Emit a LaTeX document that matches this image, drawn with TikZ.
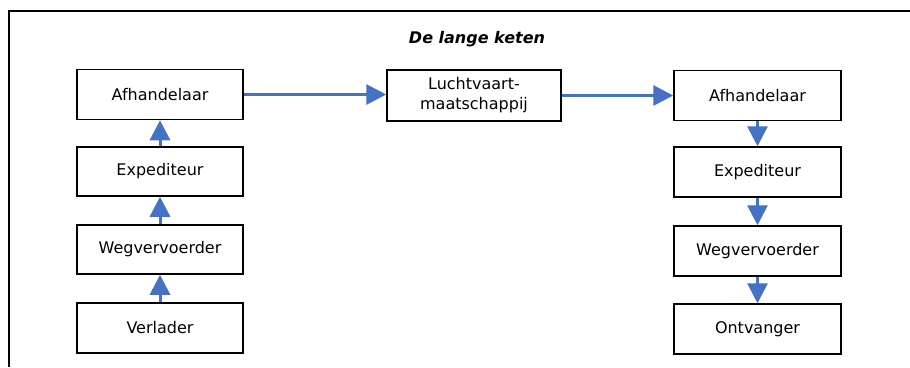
\documentclass[tikz,border=0pt]{standalone}
\usepackage{fontspec}
\setmainfont{DejaVu Sans}
\usetikzlibrary{arrows.meta}
\definecolor{arrowblue}{HTML}{4472C4}
\begin{document}
\begin{tikzpicture}[x=1pt,y=-1pt,
  box/.style={draw=black,line width=1.5pt,fill=white,font=\fontsize{16}{20}\selectfont,align=center,inner sep=0pt},
  flow/.style={draw=arrowblue,line width=3pt,-{Triangle[length=20pt,width=20pt]}}]
\useasboundingbox (0,0) rectangle (910,367);
\coordinate (ftl) at (9,11);
\coordinate (ftr) at (910,11);
\coordinate (fbl) at (9,367);
\draw[line width=2pt] (ftr) -- (ftl) -- (fbl);
\node[font=\fontsize{16}{19}\selectfont\bfseries\itshape] (title) at (477,39) {De lange keten};
% left column
\node[box,minimum width=166pt,minimum height=50pt] (la) at (160,94.5) {Afhandelaar};
\node[box,minimum width=166pt,minimum height=49pt] (le) at (160,171.5) {Expediteur};
\node[box,minimum width=166pt,minimum height=49pt] (lw) at (160,249.5) {Wegvervoerder};
\node[box,minimum width=166pt,minimum height=50pt] (lv) at (160,328) {Verlader};
% middle
\node[box,minimum width=174pt,minimum height=51pt] (lm) at (474,95.5) {Luchtvaart-\\maatschappij};
% right column
\node[box,minimum width=167pt,minimum height=50pt] (ra) at (757.5,95.5) {Afhandelaar};
\node[box,minimum width=167pt,minimum height=50pt] (re) at (757.5,172) {Expediteur};
\node[box,minimum width=167pt,minimum height=50pt] (rw) at (757.5,251) {Wegvervoerder};
\node[box,minimum width=167pt,minimum height=50pt] (ro) at (757.5,329) {Ontvanger};
% arrows
\draw[flow] (lv.north) -- (lw.south);
\draw[flow] (lw.north) -- (le.south);
\draw[flow] (le.north) -- (la.south);
\draw[flow] (la.east) -- (la.east -| lm.west);
\draw[flow] (lm.east) -- (lm.east -| ra.west);
\draw[flow] (ra.south) -- (re.north);
\draw[flow] (re.south) -- (rw.north);
\draw[flow] (rw.south) -- (ro.north);
\end{tikzpicture}
\end{document}
